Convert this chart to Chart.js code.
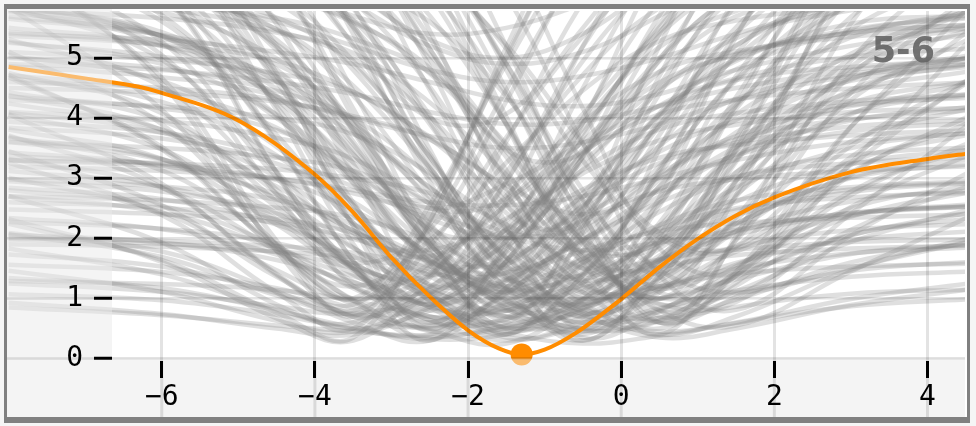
<!DOCTYPE html>
<html>
<head>
<meta charset="utf-8">
<script src="https://cdn.jsdelivr.net/npm/chart.js@4.4.1/dist/chart.umd.min.js"></script>
<style>
  html, body { margin: 0; padding: 0; background: #f5f5f5; }
  #wrap { width: 976px; height: 426px; position: relative; }
</style>
</head>
<body>
<div id="wrap"><canvas id="myChart"></canvas></div>
<script>
// axis ticks and ranges
const xTicks = [-6, -4, -2, 0, 2, 4];
const xTickLabels = ['−6', '−4', '−2', '0', '2', '4'];
const yTicks = [0, 1, 2, 3, 4, 5];
const yTickLabels = ['0', '1', '2', '3', '4', '5'];
const xRange = [-6.65, 4.49];
const yRange = [-0.04, 5.78];
const panelLabel = '5-6';

// highlighted curve
const orangeX = [-8, -7, -6.3, -6, -5, -4, -3.5, -3, -2.5, -2, -1.6, -1.3, -1, -0.6, 0, 0.5, 1, 1.5, 2, 3, 4, 4.6];
const orangeY = [4.85, 4.66, 4.52, 4.42, 3.96, 3.06, 2.43, 1.68, 1.03, 0.47, 0.17, 0.07, 0.15, 0.42, 0.99, 1.52, 1.99, 2.38, 2.68, 3.1, 3.32, 3.42];
const minPoint = { x: -1.3, y: 0.07 };

// background curves, all sampled at grayX
const grayX = [-8, -6, -4.5, -3.5, -2.5, -1.5, -0.5, 0.5, 1.5, 3, 4.6];
const grayCurves = [
  [1.83,1.40,0.82,0.60,1.38,2.71,3.93,4.77,5.11,5.35,5.50],
  [0.93,0.74,0.50,0.40,0.85,1.60,2.30,2.78,2.98,3.12,3.20],
  [4.06,2.91,1.39,0.80,1.87,3.68,5.36,6.50,6.96,7.30,7.50],
  [2.70,1.93,0.90,0.50,0.80,1.32,1.79,2.12,2.25,2.34,2.40],
  [5.84,4.14,1.88,1.00,1.58,2.55,3.45,4.06,4.31,4.49,4.60],
  [2.32,1.61,0.67,0.30,1.34,3.10,4.72,5.83,6.28,6.61,6.80],
  [6.68,4.58,1.79,0.70,1.20,2.03,2.81,3.34,3.55,3.71,3.80],
  [4.72,3.48,1.84,1.20,1.97,3.26,4.46,5.28,5.62,5.86,6.00],
  [1.34,1.17,0.80,0.52,0.35,0.55,0.89,1.20,1.41,1.53,1.58],
  [3.32,2.84,1.79,0.98,0.50,1.09,2.09,3.02,3.65,3.98,4.13],
  [4.75,4.08,2.61,1.47,0.80,1.12,1.66,2.16,2.50,2.68,2.76],
  [2.09,1.78,1.12,0.60,0.30,1.18,2.67,4.04,4.98,5.47,5.69],
  [5.86,4.97,3.01,1.50,0.60,1.62,3.35,4.95,6.04,6.62,6.87],
  [3.81,3.32,2.23,1.40,0.90,1.30,1.98,2.60,3.03,3.25,3.35],
  [7.36,6.18,3.61,1.63,0.45,1.18,2.41,3.54,4.32,4.73,4.91],
  [2.70,2.43,1.83,1.37,1.10,1.96,3.42,4.77,5.69,6.18,6.39],
  [5.31,4.52,2.81,1.48,0.70,0.89,1.22,1.52,1.72,1.83,1.88],
  [3.69,3.13,1.90,0.96,0.40,1.62,3.67,5.57,6.86,7.54,7.85],
  [6.48,5.61,3.72,2.26,1.40,1.88,2.69,3.44,3.95,4.22,4.34],
  [1.73,1.53,1.09,0.75,0.55,0.94,1.60,2.22,2.63,2.85,2.95],
  [4.38,3.80,2.52,1.53,0.95,1.77,3.16,4.45,5.33,5.79,5.99],
  [2.34,2.15,1.73,1.20,0.64,0.30,0.60,1.12,1.59,1.97,2.12],
  [4.09,3.76,3.02,2.09,1.09,0.50,1.00,1.83,2.61,3.23,3.48],
  [5.84,5.36,4.30,2.98,1.55,0.70,1.42,2.64,3.76,4.66,5.02],
  [3.12,2.86,2.30,1.60,0.85,0.40,1.39,3.07,4.62,5.86,6.35],
  [7.01,6.44,5.18,3.61,1.91,0.90,1.17,1.63,2.06,2.40,2.53],
  [1.56,1.44,1.17,0.83,0.47,0.25,0.98,2.21,3.34,4.25,4.62],
  [5.27,4.90,4.06,3.01,1.87,1.20,2.19,3.87,5.42,6.66,7.15],
  [7.78,7.11,5.63,3.78,1.78,0.60,1.13,2.02,2.84,3.50,3.77],
  [2.84,2.65,2.23,1.70,1.14,0.80,1.57,2.86,4.06,5.02,5.41],
  [4.67,4.27,3.38,2.26,1.06,0.35,0.53,0.84,1.13,1.36,1.45],
  [6.43,5.93,4.81,3.41,1.90,1.00,1.94,3.54,5.01,6.19,6.66],
  [3.60,3.31,2.66,1.85,0.97,0.45,0.84,1.50,2.12,2.61,2.80],
  [5.77,5.37,4.49,3.39,2.20,1.50,1.95,2.70,3.40,3.96,4.19],
  [2.06,1.93,1.64,1.27,0.88,0.65,1.79,3.72,5.51,6.94,7.51],
  [1.29,1.24,1.14,0.96,0.70,0.42,0.25,0.38,0.59,0.87,0.99],
  [3.37,3.23,2.97,2.47,1.75,0.96,0.50,0.82,1.36,2.06,2.34],
  [5.25,5.02,4.61,3.83,2.68,1.44,0.70,1.23,2.12,3.27,3.74],
  [6.83,6.51,5.92,4.80,3.17,1.40,0.35,0.79,1.53,2.50,2.88],
  [2.48,2.40,2.26,1.99,1.59,1.16,0.90,1.62,2.84,4.41,5.04],
  [4.36,4.16,3.80,3.12,2.12,1.04,0.40,1.34,2.94,5.00,5.83],
  [7.54,7.21,6.63,5.52,3.90,2.14,1.10,1.71,2.73,4.06,4.60],
  [2.98,2.86,2.64,2.23,1.63,0.98,0.60,0.78,1.07,1.46,1.61],
  [5.65,5.38,4.89,3.97,2.62,1.16,0.30,1.40,3.27,5.68,6.65],
  [4.86,4.68,4.36,3.75,2.85,1.88,1.30,1.65,2.25,3.02,3.32],
  [6.25,5.97,5.48,4.54,3.17,1.68,0.80,0.99,1.32,1.74,1.90],
  [1.98,1.91,1.77,1.50,1.12,0.70,0.45,1.10,2.19,3.61,4.18],
  [8.13,7.75,7.08,5.82,3.95,1.94,0.75,1.57,2.96,4.77,5.49],
  [3.60,3.50,3.34,3.12,2.58,1.78,0.91,0.40,0.70,1.48,2.02],
  [5.10,4.97,4.74,4.43,3.66,2.54,1.32,0.60,1.03,2.14,2.90],
  [7.00,6.82,6.51,6.09,5.05,3.52,1.88,0.90,1.41,2.72,3.62],
  [2.70,2.63,2.51,2.35,1.95,1.36,0.73,0.35,0.50,0.89,1.16],
  [6.40,6.24,5.98,5.62,4.74,3.44,2.03,1.20,1.86,3.54,4.69],
  [4.30,4.19,4.00,3.73,3.08,2.13,1.11,0.50,1.44,3.86,5.52],
  [8.00,7.78,7.42,6.92,5.70,3.90,1.95,0.80,1.12,1.94,2.50],
  [5.80,5.66,5.42,5.08,4.26,3.06,1.77,1.00,1.96,4.42,6.10],
  [0.85,0.72,0.55,0.45,0.38,0.50,0.85,1.20,1.50,1.75,1.85],
  [3.94,3.76,3.36,2.86,2.32,2.00,2.40,3.08,3.70,4.20,4.40],
  [5.79,5.23,4.00,3.06,2.50,2.90,3.58,4.20,4.63,4.85,4.95],
  [3.19,3.12,2.99,2.75,2.40,2.02,1.80,1.93,2.14,2.42,2.54],
  [5.10,3.90,1.90,0.90,0.98,2.18,3.92,5.18,5.78,6.26,6.44],
  [3.01,2.43,1.47,0.99,1.42,2.96,5.19,6.81,7.58,8.19,8.42],
  [6.57,5.27,3.11,2.03,1.81,2.33,3.08,3.63,3.89,4.10,4.17],
  [3.71,2.85,1.41,0.69,0.53,0.85,1.31,1.65,1.81,1.94,1.98],
  [7.90,6.10,3.10,1.60,1.37,2.29,3.62,4.59,5.05,5.42,5.55],
  [2.07,1.69,1.05,0.73,0.87,1.55,2.54,3.25,3.59,3.86,3.97],
  [4.43,3.96,2.75,1.50,0.64,0.68,1.62,2.98,3.97,4.62,4.86],
  [6.56,5.92,4.26,2.55,1.37,1.12,1.66,2.44,3.01,3.38,3.52],
  [2.80,2.54,1.87,1.17,0.69,1.07,2.49,4.55,6.04,7.03,7.39],
  [5.04,4.62,3.52,2.39,1.61,1.66,2.56,3.87,4.81,5.44,5.67],
  [7.50,6.68,4.60,2.44,0.95,0.53,0.98,1.63,2.11,2.42,2.53],
  [5.85,5.43,4.37,3.26,2.50,2.66,3.82,5.51,6.72,7.54,7.83],
  [3.67,3.32,2.42,1.50,0.86,0.79,1.27,1.97,2.47,2.81,2.93],
  [8.68,7.80,5.56,3.24,1.64,1.43,2.51,4.08,5.21,5.97,6.24],
  [2.95,2.78,2.41,1.84,1.06,0.52,0.69,1.67,3.09,4.47,4.91],
  [6.09,5.76,4.99,3.84,2.24,1.14,0.92,1.46,2.24,3.00,3.24],
  [4.71,4.45,3.84,2.93,1.67,0.80,1.05,2.54,4.70,6.78,7.45],
  [8.16,7.72,6.72,5.20,3.12,1.68,1.38,2.08,3.10,4.08,4.39],
  [2.27,2.16,1.92,1.55,1.04,0.69,0.72,1.15,1.78,2.38,2.57],
  [5.43,5.20,4.69,3.91,2.84,2.10,2.20,3.20,4.65,6.05,6.50],
  [6.48,6.10,5.23,3.91,2.10,0.85,0.79,1.90,3.51,5.07,5.57],
  [3.84,3.66,3.24,2.61,1.74,1.14,1.53,3.11,5.40,7.62,8.33],
  [5.00,4.82,4.45,3.99,3.02,1.69,0.77,0.68,1.38,2.78,3.52],
  [7.40,7.13,6.60,5.93,4.52,2.58,1.24,1.17,2.35,4.71,5.95],
  [2.60,2.51,2.32,2.09,1.61,0.94,0.48,0.63,1.45,3.09,3.95],
  [6.00,5.82,5.45,4.99,4.02,2.69,1.77,1.94,3.30,6.02,7.45],
  [4.10,3.96,3.67,3.32,2.57,1.54,0.83,0.67,0.98,1.60,1.93],
  [8.60,8.30,7.69,6.93,5.33,3.13,1.61,1.16,1.56,2.36,2.78],
  [4.50,4.42,4.27,4.03,3.64,2.82,1.69,0.91,0.94,2.41,3.96],
  [6.90,6.78,6.55,6.19,5.60,4.36,2.65,1.47,1.10,1.52,1.96],
  [3.30,3.25,3.15,3.00,2.75,2.23,1.50,1.00,1.26,3.25,5.36],
  [7.90,7.77,7.52,7.13,6.49,5.15,3.29,2.01,1.82,3.22,4.70],
  [8.31,7.00,4.13,1.91,0.60,1.86,4.00,5.97,7.32,8.03,8.34],
  [8.75,7.98,6.28,4.16,1.86,0.50,1.38,2.87,4.24,5.34,5.78],
  [6.94,6.62,6.04,4.95,3.35,1.62,0.60,1.94,4.21,7.15,8.33],
  [3.45,2.55,1.36,0.90,2.23,4.47,6.54,7.96,8.54,8.95,9.20],
  [9.50,9.24,8.80,8.18,6.68,4.48,2.11,0.70,1.21,2.52,3.42],
  [4.24,3.81,2.86,2.13,1.70,2.58,4.07,5.44,6.38,6.87,7.09],
  [3.43,3.21,2.73,2.13,1.48,1.10,1.40,1.92,2.39,2.77,2.92],
  [5.37,5.22,4.95,4.44,3.69,2.88,2.40,2.82,3.52,4.43,4.79],
  [4.90,4.80,4.60,4.40,4.10,3.90,3.95,4.20,4.50,4.80,5.00],
  [3.30,3.20,3.00,2.80,2.60,2.55,2.70,3.00,3.30,3.60,3.75],
  [1.46,1.11,0.63,0.45,1.08,2.15,3.14,3.81,4.08,4.28,4.40],
  [1.90,1.86,1.78,1.68,1.44,1.07,0.68,0.45,0.60,0.99,1.26],
  [1.07,0.97,0.73,0.49,0.32,0.41,0.82,1.42,1.85,2.14,2.24],
  [5.69,5.37,4.61,3.48,1.91,0.83,0.46,0.62,0.86,1.08,1.15],
  [1.25,1.11,0.87,0.75,1.06,1.96,3.27,4.21,4.66,5.02,5.16],
  [2.00,1.96,1.87,1.76,1.53,1.21,0.99,1.30,2.30,4.30,5.35],
  [7.06,6.39,4.68,2.91,1.69,1.42,1.98,2.80,3.38,3.78,3.92],
  [6.00,5.89,5.66,5.32,4.76,3.57,1.93,0.80,0.55,1.45,2.39],
  [8.66,7.47,4.75,2.20,0.50,1.80,3.75,5.38,6.22,6.74,6.94],
  [7.24,6.31,4.20,2.22,0.90,2.62,5.20,7.35,8.47,9.16,9.41],
  [8.34,7.85,6.48,4.45,2.02,0.40,2.12,4.70,6.85,8.31,8.83],
  [6.68,6.32,5.30,3.80,2.00,0.80,2.24,4.40,6.20,7.42,7.86],
  [9.34,8.84,7.45,5.40,2.94,1.30,2.34,3.90,5.20,6.08,6.40],
  [9.11,8.85,8.16,7.03,4.85,2.24,0.50,2.04,4.35,6.81,7.82],
  [7.14,6.95,6.44,5.63,4.05,2.16,0.90,2.68,5.35,8.20,9.36],
  [8.73,8.51,7.92,6.98,5.15,2.96,1.50,2.58,4.20,5.93,6.63],
  [9.00,8.83,8.58,7.99,6.90,4.80,2.28,0.60,1.98,4.95,6.74],
  [7.80,7.66,7.46,6.98,6.10,4.40,2.36,1.00,2.72,6.42,8.65],
  [7.85,7.09,5.21,3.09,1.21,1.29,3.37,5.71,7.30,8.38,8.63],
  [9.23,8.40,6.33,4.01,1.93,1.57,2.75,4.06,4.95,5.57,5.71],
  [8.52,8.19,7.12,5.55,3.24,1.18,1.25,3.48,5.99,8.23,9.03],
  [6.44,6.21,5.47,4.37,2.76,1.33,1.44,3.15,5.07,6.78,7.39],
  [9.72,9.39,8.32,6.77,4.47,2.42,2.28,3.98,5.88,7.58,8.20],
  [7.60,7.46,7.03,6.32,4.97,2.99,1.21,1.35,3.48,6.88,8.41],
  [9.60,9.42,8.90,8.02,6.34,3.88,1.68,1.34,2.69,4.85,5.82],
  [7.92,6.94,4.70,2.60,1.20,2.08,3.40,4.50,5.07,5.42,5.56],
  [5.50,5.20,4.35,3.10,1.60,0.60,2.44,5.20,7.50,9.06,9.62],
  [6.34,6.16,5.67,4.88,3.35,1.52,0.30,1.56,3.45,5.47,6.29],
  [6.50,4.67,1.96,0.70,2.44,5.05,7.23,8.36,8.97,9.23,9.40],
  [6.30,6.18,6.01,5.59,4.83,3.35,1.58,0.40,2.04,5.57,7.70],
  [5.89,5.36,4.04,2.56,1.23,1.62,3.92,6.50,8.24,9.44,9.72],
  [8.90,8.75,8.28,7.51,6.05,3.90,1.97,1.88,3.58,6.30,7.52],
  [8.92,8.58,7.47,5.86,3.48,1.35,0.97,2.15,3.46,4.64,5.06],
  [6.64,5.71,3.60,1.62,0.30,1.98,4.50,6.60,7.69,8.36,8.62],
  [8.86,8.44,7.25,5.50,3.40,2.00,3.36,5.40,7.10,8.26,8.66],
  [9.81,9.54,8.83,7.68,5.45,2.78,1.00,2.26,4.15,6.17,6.99],
  [8.40,8.26,8.05,7.56,6.65,4.90,2.80,1.40,2.96,6.31,8.34],
  [7.09,6.53,5.13,3.56,2.16,2.14,3.49,5.00,6.03,6.73,6.89],
  [3.26,2.39,1.10,0.50,2.30,5.00,7.25,8.42,9.05,9.32,9.50],
  [4.68,3.52,1.80,1.00,2.56,4.90,6.85,7.86,8.41,8.64,8.80],
  [2.24,1.64,0.76,0.35,2.28,5.18,7.59,8.84,9.52,9.81,10.0],
  [6.21,5.05,2.73,1.28,1.53,3.61,5.93,7.51,8.34,8.83,9.00],
  [4.06,3.48,2.32,1.59,2.15,4.28,6.66,8.27,9.12,9.63,9.80],
  [7.62,6.11,3.09,1.21,1.17,2.95,4.95,6.31,7.03,7.46,7.60],
  [9.80,9.62,9.34,8.70,7.50,5.20,2.44,0.60,1.38,3.06,4.07],
  [8.70,8.55,8.32,7.79,6.80,4.90,2.62,1.10,1.40,2.05,2.44],
  [9.30,9.21,9.04,8.60,7.72,6.04,3.58,1.38,0.81,2.05,3.14],
  [7.40,7.34,7.22,6.93,6.34,5.22,3.57,2.09,1.87,3.35,4.65],
  [10.2,10.11,9.92,9.46,8.53,6.76,4.16,1.83,1.49,3.85,5.92],
  [10.0,9.82,9.26,8.34,6.60,4.02,1.72,1.62,3.67,6.95,8.43],
  [6.20,6.00,5.60,5.20,4.80,4.60,4.70,5.00,5.40,5.90,6.20],
  [7.50,7.20,6.60,5.90,5.20,4.90,5.10,5.70,6.40,7.10,7.50],
  [5.40,5.30,5.10,4.90,4.60,4.30,4.20,4.40,4.80,5.20,5.50],
  [8.20,7.80,7.00,6.10,5.30,5.00,5.40,6.30,7.20,8.00,8.40],
  [4.60,4.50,4.30,4.00,3.70,3.50,3.60,3.90,4.30,4.70,4.90],
  [6.80,6.60,6.20,5.70,5.40,5.50,5.90,6.40,6.80,7.10,7.30],
  [9.43,9.17,8.29,7.02,5.15,3.47,3.42,4.97,6.71,8.26,8.81],
  [8.40,7.90,6.65,5.25,4.00,4.07,5.50,7.09,8.17,8.92,9.09]
];

const orange = '#ff8c00';
const gridColor = 'rgba(0,0,0,0.11)';
const shade = 'rgba(245,245,245,0.45)';
const monoFont = { family: 'DejaVu Sans Mono', size: 28 };
// let lines run under the axis strips on the left and bottom
const clip = { left: 105, top: 0, right: 0, bottom: 56 };

const datasets = [
  {
    type: 'scatter',
    data: [minPoint],
    pointRadius: 11,
    pointBackgroundColor: orange,
    pointBorderWidth: 0,
    clip: clip
  },
  {
    data: orangeX.map((x, i) => ({ x: x, y: orangeY[i] })),
    borderColor: orange,
    borderWidth: 4,
    cubicInterpolationMode: 'monotone',
    pointRadius: 0,
    clip: clip
  }
];
grayCurves.forEach(c => {
  datasets.push({
    data: grayX.map((x, i) => ({ x: x, y: c[i] })),
    borderColor: 'rgba(128,128,128,0.25)',
    borderWidth: 4.5,
    tension: 0.4,
    pointRadius: 0,
    clip: clip
  });
});

const panel = {
  id: 'panel',
  beforeDraw(chart) {
    const { ctx, chartArea: a, scales: { y } } = chart;
    const y0 = y.getPixelForValue(0);
    ctx.save();
    ctx.fillStyle = '#f5f5f5';
    ctx.fillRect(0, 0, chart.width, chart.height);
    ctx.fillStyle = '#808080';
    ctx.fillRect(4, 4, 966, 419);
    ctx.fillStyle = '#ffffff';
    ctx.fillRect(7, 9, 960, 408);
    ctx.fillStyle = '#f5f5f5';
    ctx.fillRect(7, 9, a.left - 7, 408);
    ctx.fillRect(a.left, y0, a.right - a.left, 417 - y0);
    ctx.restore();
  },
  afterDatasetsDraw(chart) {
    const { ctx, chartArea: a, scales: { x, y } } = chart;
    const y0 = y.getPixelForValue(0);
    ctx.save();
    ctx.fillStyle = shade;
    ctx.fillRect(7, 9, a.left - 7, 408);
    ctx.fillRect(a.left, y0, a.right - a.left, 417 - y0);
    // grid lines continue through the axis strips
    ctx.strokeStyle = gridColor;
    ctx.lineWidth = 2.5;
    ctx.beginPath();
    yTicks.forEach(v => {
      const p = y.getPixelForValue(v);
      ctx.moveTo(7, p);
      ctx.lineTo(a.left - 18, p);
    });
    ctx.stroke();
    ctx.lineWidth = 3;
    ctx.beginPath();
    xTicks.forEach(v => {
      const p = x.getPixelForValue(v);
      ctx.moveTo(p, a.bottom);
      ctx.lineTo(p, 417);
    });
    ctx.stroke();
    ctx.restore();
  },
  afterDraw(chart) {
    const { ctx } = chart;
    ctx.save();
    ctx.font = 'bold 35px "DejaVu Sans"';
    ctx.fillStyle = 'rgba(100,100,100,0.9)';
    ctx.textAlign = 'right';
    ctx.textBaseline = 'alphabetic';
    ctx.fillText(panelLabel, 935, 62);
    ctx.restore();
  }
};

new Chart('myChart', {
  type: 'line',
  data: { datasets: datasets },
  plugins: [panel],
  options: {
    responsive: true,
    maintainAspectRatio: false,
    devicePixelRatio: 1,
    animation: false,
    layout: { padding: { left: 7, right: 9, top: 9, bottom: 9 } },
    elements: { line: { capBezierPoints: false } },
    plugins: { legend: { display: false }, tooltip: { enabled: false } },
    scales: {
      x: {
        type: 'linear',
        bounds: 'data',
        afterDataLimits: s => { s.min = xRange[0]; s.max = xRange[1]; },
        afterBuildTicks: s => { s.ticks = xTicks.map(v => ({ value: v })); },
        afterFit: s => { s.height = 56; s.paddingLeft = 0; s.paddingRight = 0; },
        border: { display: false },
        grid: { color: gridColor, lineWidth: 3, z: 1, tickColor: '#000', tickWidth: 3, tickLength: 17 },
        ticks: {
          z: 1, color: '#000', font: monoFont, padding: 3, maxRotation: 0, autoSkip: false,
          callback: (v, i) => xTickLabels[i]
        }
      },
      y: {
        type: 'linear',
        min: yRange[0],
        max: yRange[1],
        afterBuildTicks: s => { s.ticks = yTicks.map(v => ({ value: v })); },
        afterFit: s => { s.width = 105; s.paddingTop = 0; s.paddingBottom = 0; },
        border: { display: false },
        grid: { color: gridColor, lineWidth: 2.5, z: 1, tickColor: '#000', tickWidth: 3, tickLength: 18 },
        ticks: {
          z: 1, color: '#000', font: monoFont, padding: 11, autoSkip: false,
          callback: (v, i) => yTickLabels[i]
        }
      }
    }
  }
});
</script>
</body>
</html>
